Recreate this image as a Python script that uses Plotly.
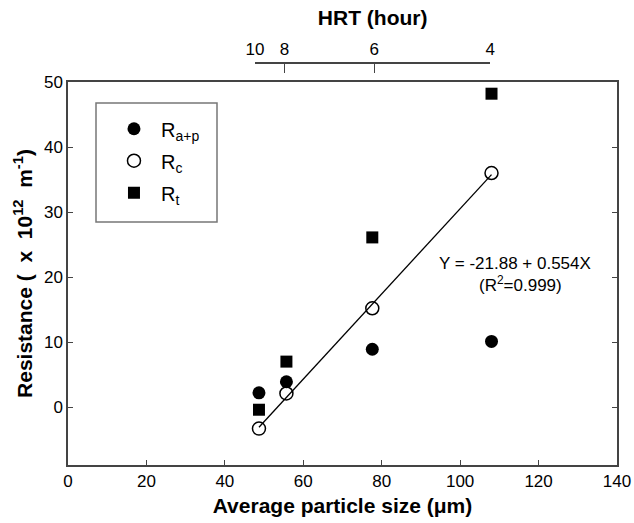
import numpy as np
import plotly.graph_objects as go

# ---- data ----
particle_size = [48.7, 55.7, 77.6, 108.0]          # average particle size (um)
r_ap = [2.2, 3.9, 8.9, 10.1]                        # R a+p
r_c = [-3.3, 2.1, 15.2, 36.0]                       # R c
r_t = [-0.4, 7.0, 26.1, 48.2]                       # R t
hrt_labels = ["10", "8", "6", "4"]                  # HRT (hour)
hrt_size_pos = [47.7, 55.2, 78.1, 107.7]            # particle size position of HRT ticks
x_ticks = [0, 20, 40, 60, 80, 100, 120, 140]
y_ticks = [0, 10, 20, 30, 40, 50]
eq_line1 = "Y = -21.88 + 0.554X"
eq_line2 = "(R<sup>2</sup>=0.999)"

FONT = "Liberation Sans, Arial, sans-serif"
AX = "#444444"

# linear fit of Rc for the regression line
coef = np.polyfit(particle_size, r_c, 1)
fit_x = [min(particle_size), max(particle_size)]
fit_y = list(np.polyval(coef, fit_x))

fig = go.Figure()
fig.add_trace(go.Scatter(x=particle_size, y=r_ap, mode="markers", name="R<sub>a+p</sub>",
                         marker=dict(symbol="circle", size=13, color="black"),
                         legendgroup="a"))
fig.add_trace(go.Scatter(x=particle_size, y=r_c, mode="markers", name="R<sub>c</sub>",
                         marker=dict(symbol="circle-open", size=13, color="black",
                                     line=dict(width=1.5, color="black")),
                         legendgroup="b"))
fig.add_trace(go.Scatter(x=particle_size, y=r_t, mode="markers", name="R<sub>t</sub>",
                         marker=dict(symbol="square", size=12, color="black"),
                         legendgroup="c"))
fig.add_trace(go.Scatter(x=fit_x, y=fit_y, mode="lines", showlegend=False,
                         line=dict(color="black", width=1.3), hoverinfo="skip"))
# invisible trace to carry the top HRT axis (its own hidden y axis)
fig.add_trace(go.Scatter(x=hrt_size_pos, y=[0] * len(hrt_size_pos), xaxis="x2",
                         yaxis="y2", mode="markers", marker=dict(opacity=0),
                         showlegend=False, hoverinfo="skip"))

W, H = 634, 523
ml, mr, mt, mb = 68, 17, 63, 58
plot_h = H - mt - mb
ydom_top = (465 - 82) / plot_h

xr = [0, 140]
fig.update_layout(
    width=W, height=H,
    margin=dict(l=ml, r=mr, t=mt, b=mb),
    paper_bgcolor="white", plot_bgcolor="rgba(0,0,0,0)",
    font=dict(family=FONT, size=17, color="black"),
    showlegend=True,
    legend=dict(x=0.071, y=0.885, xanchor="left", yanchor="top",
                bgcolor="rgba(0,0,0,0)", borderwidth=0,
                font=dict(size=20), tracegroupgap=3, itemwidth=44),
    xaxis=dict(range=xr, tickvals=x_ticks, ticks="inside", ticklen=5,
               tickcolor=AX, showline=True, linecolor=AX, linewidth=1.5,
               mirror=True, showgrid=False, zeroline=False, automargin=False,
               title=dict(text="<b>Average particle size (\u03bcm)</b>",
                          font=dict(size=21), standoff=8)),
    xaxis2=dict(side="top", anchor="free", position=1,
                domain=[hrt_size_pos[0] / xr[1], hrt_size_pos[-1] / xr[1]],
                range=[hrt_size_pos[0], hrt_size_pos[-1]],
                tickvals=hrt_size_pos, ticktext=hrt_labels,
                ticks="inside", ticklen=9, tickcolor=AX, showline=True,
                linecolor=AX, linewidth=1.5, showgrid=False, zeroline=False,
                automargin=False,
                title=dict(text="<b>HRT (hour)</b>", font=dict(size=21), standoff=8)),
    yaxis=dict(range=[-8.9, 50], tickvals=y_ticks, ticks="inside", ticklen=5,
               tickcolor=AX, showline=True, linecolor=AX, linewidth=1.5,
               mirror="ticks", showgrid=False, zeroline=False, automargin=False,
               domain=[0, ydom_top],
               title=dict(text="<b>Resistance (\u00a0 x \u00a010<sup>12</sup>\u00a0 m<sup>-1</sup>)</b>",
                          font=dict(size=21), standoff=6)),
    yaxis2=dict(anchor="x2", domain=[0, ydom_top], range=[-8.9, 50], visible=False),
)

# legend frame
fig.add_shape(type="rect", xref="paper", yref="paper",
              x0=(96 - ml) / (W - ml - mr), x1=(217 - ml) / (W - ml - mr),
              y0=(465 - 222) / plot_h, y1=(465 - 103) / plot_h,
              line=dict(color="#777777", width=1.5), fillcolor="rgba(0,0,0,0)")

fig.add_annotation(x=114.0, y=22.1, xref="x", yref="y", text=eq_line1, showarrow=False,
                   font=dict(size=17), xanchor="center", yanchor="middle")
fig.add_annotation(x=115.5, y=19.0, xref="x", yref="y", text=eq_line2, showarrow=False,
                   font=dict(size=17), xanchor="center", yanchor="middle")

fig.write_html("out.html")
